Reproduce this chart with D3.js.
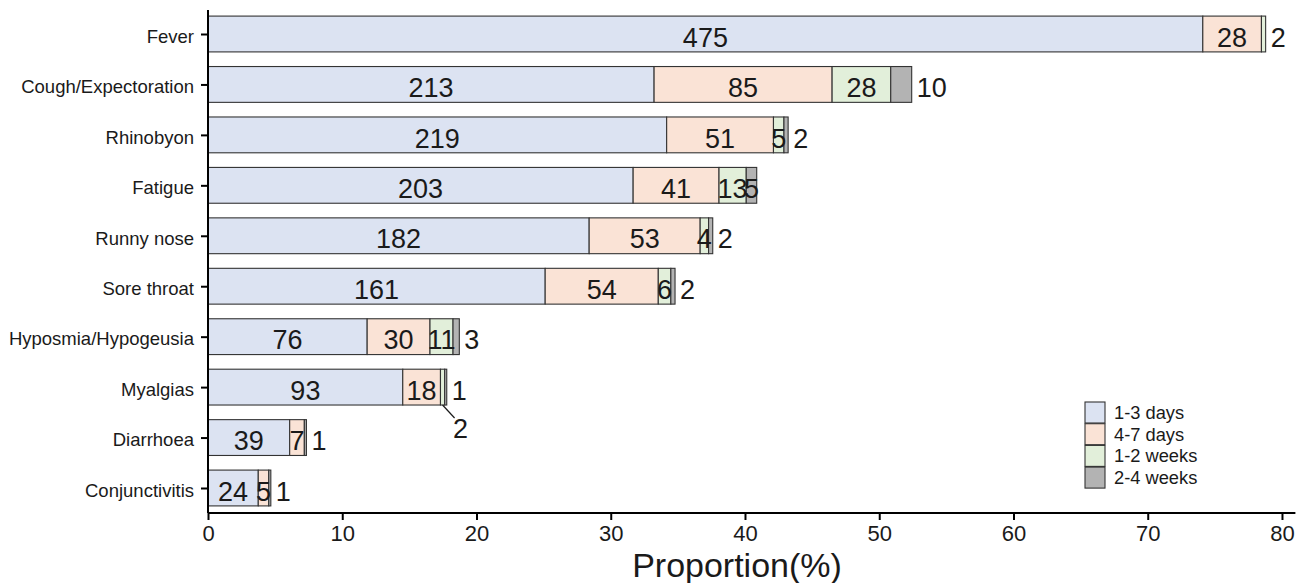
<!DOCTYPE html>
<html>
<head>
<meta charset="utf-8">
<script src="https://cdn.jsdelivr.net/npm/d3@7"></script>
<style>
  body { margin: 0; background: #fff; }
  text { font-family: "Liberation Sans", Arial, sans-serif; fill: #1a1a1a; }
</style>
</head>
<body>
<svg id="chart" width="1307" height="583"></svg>
<script>
// symptoms, top to bottom
var symptoms = ["Fever", "Cough/Expectoration", "Rhinobyon", "Fatigue", "Runny nose",
  "Sore throat", "Hyposmia/Hypogeusia", "Myalgias", "Diarrhoea", "Conjunctivitis"];

// counts per duration group
var days1to3  = [475, 213, 219, 203, 182, 161, 76, 93, 39, 24];
var days4to7  = [28, 85, 51, 41, 53, 54, 30, 18, 7, 5];
var weeks1to2 = [2, 28, 5, 13, 4, 6, 11, 2, 0, 0];
var weeks2to4 = [0, 10, 2, 5, 2, 2, 3, 1, 1, 1];

var groups = ["1-3 days", "4-7 days", "1-2 weeks", "2-4 weeks"];
var groupColors = ["#dce3f2", "#fae3d6", "#e2efda", "#b3b3b3"];
var totalPatients = 641;
var xTicks = [0, 10, 20, 30, 40, 50, 60, 70, 80];

// last label drawn inside the bar instead of to the right
var insideLast = ["Fatigue"];
// label pushed under the bar with a leader (ggrepel style)
var repelled = { symptom: "Myalgias", group: 2 };

var svg = d3.select("#chart");

var x = d3.scaleLinear().domain([0, 81]).range([208, 1295.4]);
var y = d3.scalePoint().domain(symptoms).range([34, 488]);
var step = y.step();
var barH = step * 0.71;

// build stacked rows
var series = [days1to3, days4to7, weeks1to2, weeks2to4];
var rows = symptoms.map(function(s, i) {
  var acc = 0;
  var segs = series.map(function(arr, g) {
    var v = arr[i];
    var seg = { symptom: s, group: g, value: v,
      x0: acc / totalPatients * 100, x1: (acc + v) / totalPatients * 100 };
    acc += v;
    return seg;
  });
  return { symptom: s, segs: segs, total: acc };
});

// bars
var barG = svg.append("g");
rows.forEach(function(r) {
  barG.selectAll(null)
    .data(r.segs.filter(function(d) { return d.value > 0; }))
    .enter().append("rect")
    .attr("x", function(d) { return x(d.x0); })
    .attr("y", y(r.symptom) - barH / 2)
    .attr("width", function(d) { return x(d.x1) - x(d.x0); })
    .attr("height", barH)
    .style("fill", function(d) { return groupColors[d.group]; })
    .style("stroke", "#333")
    .style("stroke-width", 1.1);
});

// value labels
var labG = svg.append("g");
rows.forEach(function(r) {
  var nz = r.segs.filter(function(d) { return d.value > 0; });
  var last = nz[nz.length - 1];
  nz.forEach(function(d) {
    var cy = y(r.symptom) + 3;
    if (repelled.symptom == r.symptom && repelled.group == d.group) {
      var sx = x((d.x0 + d.x1) / 2);
      labG.append("line")
        .attr("x1", sx).attr("y1", cy - 3 + barH / 2)
        .attr("x2", sx + 12).attr("y2", cy - 3 + barH / 2 + 13)
        .style("stroke", "#1a1a1a").style("stroke-width", 1.2);
      labG.append("text")
        .text(d.value)
        .attr("x", sx + 18).attr("y", cy + 38)
        .attr("dy", "0.36em")
        .attr("text-anchor", "middle")
        .style("font-size", "27px");
      return;
    }
    var outside = (d === last && insideLast.indexOf(r.symptom) < 0);
    labG.append("text")
      .text(d.value)
      .attr("x", outside ? x(r.total / totalPatients * 100) + 5 : x((d.x0 + d.x1) / 2))
      .attr("y", cy)
      .attr("dy", "0.36em")
      .attr("text-anchor", outside ? "start" : "middle")
      .style("font-size", "27px");
  });
});

// axes
var xAxis = svg.append("g")
  .attr("transform", "translate(0,513)")
  .call(d3.axisBottom(x).tickValues(xTicks).tickSize(7).tickPadding(5));
xAxis.select(".domain").attr("d", "M208,0H1295.4").style("stroke", "#000").style("stroke-width", 2);
xAxis.selectAll(".tick line").style("stroke", "#000").style("stroke-width", 2);
xAxis.selectAll(".tick text").style("font-size", "22px").style("font-family", "Liberation Sans, Arial, sans-serif").attr("fill", "#1a1a1a");

var yAxis = svg.append("g")
  .attr("transform", "translate(208,0)")
  .call(d3.axisLeft(y).tickSize(7).tickPadding(7));
yAxis.select(".domain").attr("d", "M0,10V513").style("stroke", "#000").style("stroke-width", 2);
yAxis.selectAll(".tick line").style("stroke", "#000").style("stroke-width", 2);
yAxis.selectAll(".tick text").attr("dy", "0.45em").style("font-size", "18.5px").style("font-family", "Liberation Sans, Arial, sans-serif").attr("fill", "#1a1a1a");

// axis title
svg.append("text")
  .text("Proportion(%)")
  .attr("x", 737)
  .attr("y", 577)
  .attr("text-anchor", "middle")
  .style("font-size", "34px");

// legend
var leg = svg.append("g").attr("transform", "translate(1085,402)");
groups.forEach(function(g, i) {
  leg.append("rect")
    .attr("x", 0).attr("y", i * 21.7)
    .attr("width", 20).attr("height", 21)
    .style("fill", groupColors[i])
    .style("stroke", "#333")
    .style("stroke-width", 1.1);
  leg.append("text")
    .text(g)
    .attr("x", 29).attr("y", i * 21.7 + 10.5)
    .attr("dy", "0.36em")
    .style("font-size", "18.3px");
});
</script>
</body>
</html>
